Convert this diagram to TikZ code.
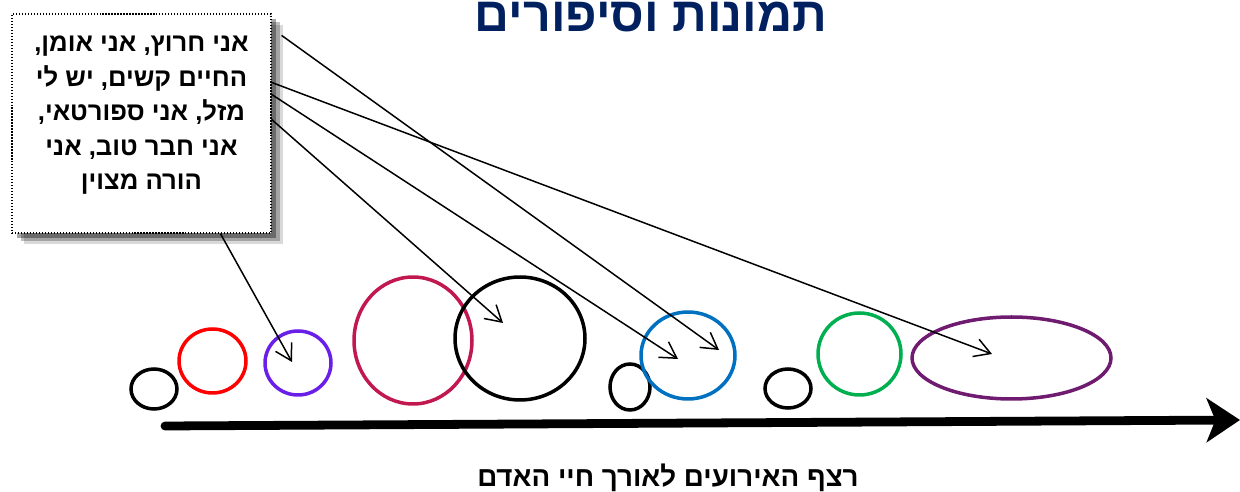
\documentclass[tikz,border=0pt]{standalone}
\usepackage{fontspec}
\usetikzlibrary{arrows.meta, calc, shapes.geometric, shadows}
\setmainfont{Liberation Sans}
\newfontfamily\hebfont[Script=Hebrew]{Liberation Sans}
\TeXXeTstate=1
\definecolor{inknavy}{HTML}{002060}
\definecolor{ringred}{HTML}{FF0000}
\definecolor{ringviolet}{HTML}{6A1FE8}
\definecolor{ringcrimson}{HTML}{C0184F}
\definecolor{ringblue}{HTML}{0070C0}
\definecolor{ringgreen}{HTML}{00B050}
\definecolor{ringplum}{HTML}{6E1B70}
\newcommand{\lifering}[5]{%
  \node[ellipse, draw=#5, line width=2pt, inner sep=0pt,
        minimum width=#3cm, minimum height=#4cm] (#1) at (#2) {};}

\begin{document}
\begin{tikzpicture}[x=0.02cm, y=-0.02cm]
      \useasboundingbox (0,0) rectangle (1240,492);
      \node[font=\hebfont\bfseries\fontsize{27.5}{33}\selectfont, text=inknavy,
            anchor=base, inner sep=0pt] (title) at (651,32) {\beginR תמונות וסיפורים\endR};
      \lifering{r1}{154,389}{0.92}{0.80}{black}
      \lifering{r2}{212.5,361}{1.34}{1.28}{ringred}
      \lifering{r3}{298,363}{1.32}{1.28}{ringviolet}
      \lifering{r4}{413,340.5}{2.36}{2.54}{ringcrimson}
      \lifering{r5}{520,338.5}{2.60}{2.46}{black}
      \lifering{r6}{630,387}{0.80}{0.92}{black}
      \lifering{r7}{688,355.5}{1.88}{1.74}{ringblue}
      \lifering{r8}{788,388.5}{0.92}{0.78}{black}
      \lifering{r9}{859.5,354}{1.66}{1.64}{ringgreen}
      \lifering{r10}{1011.5,358}{3.98}{1.64}{ringplum}
      \node[draw, densely dotted, line width=0.7pt, fill=white, inner sep=0pt,
            minimum width=5.18cm, minimum height=4.38cm,
            drop shadow={shadow xshift=7pt, shadow yshift=-6pt, fill=black, opacity=0.15},
            drop shadow={shadow xshift=5pt, shadow yshift=-4.5pt, fill=black, opacity=0.25},
            drop shadow={shadow xshift=3pt, shadow yshift=-3pt, fill=black, opacity=0.35}] (note) at (141.5,123.5) {};
      \node[align=center, inner sep=0pt, anchor=north,
            font=\hebfont\bfseries\fontsize{14.6}{19.7}\selectfont] (notetext) at (141.5,35.5)
            {\beginR אני חרוץ, אני אומן,\endR\\
             \beginR החיים קשים, יש לי\endR\\
             \beginR מזל, אני ספורטאי,\endR\\
             \beginR אני חבר טוב, אני\endR\\
             \beginR הורה מצוין\endR};
      \coordinate (axisL) at (165,426);
      \coordinate (axisR) at (1240,420);
      \draw[line width=5pt, line cap=round, -{Stealth[length=19pt, width=25pt, inset=5pt]}] (axisL) -- (axisR);
      \node[font=\hebfont\bfseries\fontsize{15.8}{19}\selectfont, anchor=base, inner sep=0pt]
            (axislabel) at (668,487) {\beginR רצף האירועים לאורך חיי האדם\endR};
      \draw[-{Straight Barb[length=9pt, width=10.5pt]}, line width=0.85pt] ($(note.south west)+(209,0)$) -- ($(r3)+(-6,-1)$);
      \draw[-{Straight Barb[length=9pt, width=10.5pt]}, line width=0.85pt] ($(note.north east)+(0,106)$) -- ($(r5)+(-17,-15.5)$);
      \draw[-{Straight Barb[length=9pt, width=10.5pt]}, line width=0.85pt] ($(note.north east)+(0,81)$) -- ($(r7)+(-10,3.5)$);
      \draw[-{Straight Barb[length=9pt, width=10.5pt]}, line width=0.85pt] ($(note.north east)+(10,22)$) -- ($(r7)+(31,-5.5)$);
      \draw[-{Straight Barb[length=9pt, width=10.5pt]}, line width=0.85pt] ($(note.north east)+(0,69)$) -- ($(r10)+(-19.5,-4)$);
    \end{tikzpicture}
\end{document}
